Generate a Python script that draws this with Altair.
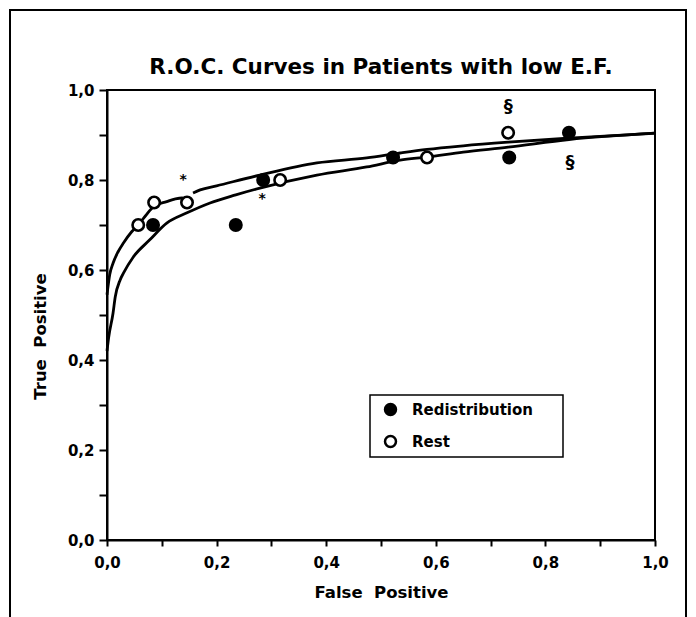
import altair as alt
import pandas as pd

# --- data ---
redis_x = [0.084, 0.235, 0.285, 0.522, 0.734, 0.843]
redis_y = [0.70, 0.70, 0.80, 0.85, 0.85, 0.905]
rest_x = [0.057, 0.086, 0.146, 0.316, 0.584, 0.732]
rest_y = [0.70, 0.75, 0.75, 0.80, 0.85, 0.905]

upper1_x = [0.0, 0.005, 0.011, 0.02, 0.03, 0.045, 0.057, 0.07, 0.086, 0.109, 0.125, 0.137, 0.146]
upper1_y = [0.545, 0.59, 0.615, 0.64, 0.66, 0.685, 0.70, 0.72, 0.742, 0.752, 0.758, 0.760, 0.752]
upper2_x = [0.157, 0.17, 0.2, 0.279, 0.383, 0.474, 0.535, 0.584, 0.65, 0.732, 0.843, 1.0]
upper2_y = [0.771, 0.778, 0.787, 0.811, 0.838, 0.849, 0.86, 0.868, 0.876, 0.884, 0.893, 0.904]
lower_x = [0.0, 0.003, 0.011, 0.015, 0.024, 0.03, 0.048, 0.078, 0.109, 0.146, 0.188, 0.235,
           0.279, 0.383, 0.474, 0.535, 0.584, 0.65, 0.732, 0.843, 1.0]
lower_y = [0.42, 0.45, 0.504, 0.54, 0.578, 0.593, 0.629, 0.667, 0.704, 0.727, 0.749, 0.767,
           0.782, 0.811, 0.829, 0.844, 0.851, 0.862, 0.873, 0.89, 0.904]

note_x = [0.139, 0.283, 0.732, 0.845]
note_y = [0.80, 0.758, 0.962, 0.838]
note_t = ["*", "*", "§", "§"]
note_size = [14, 14, 18, 18]

ticks = [0.0, 0.1, 0.2, 0.3, 0.4, 0.5, 0.6, 0.7, 0.8, 0.9, 1.0]

FONT = "DejaVu Sans"

pts = pd.DataFrame({
    "x": redis_x + rest_x,
    "y": redis_y + rest_y,
    "series": ["Redistribution"] * len(redis_x) + ["Rest"] * len(rest_x),
})
curves = pd.DataFrame({
    "x": upper1_x + upper2_x + lower_x,
    "y": upper1_y + upper2_y + lower_y,
    "seg": ["u1"] * len(upper1_x) + ["u2"] * len(upper2_x) + ["lo"] * len(lower_x),
})
notes = pd.DataFrame({"x": note_x, "y": note_y, "t": note_t, "s": note_size})

label_expr = ("(round(datum.value*10)%2==0) ? replace(format(datum.value,'.1f'),'.',',') : ''")

xenc = alt.X("x:Q", scale=alt.Scale(domain=[0, 1], nice=False),
             axis=alt.Axis(values=ticks, labelExpr=label_expr, title="False\u00a0 Positive",
                           tickSize=6, labelPadding=9, titlePadding=14, labelFlush=False))
yenc = alt.Y("y:Q", scale=alt.Scale(domain=[0, 1], nice=False),
             axis=alt.Axis(values=ticks, labelExpr=label_expr, title="True\u00a0 Positive",
                           tickSize=8, labelPadding=5, titleX=-59, titleY=246, labelFlush=False))

one = pd.DataFrame({"a": [0]})

# outer page frame (decoration)
frame = alt.Chart(one).mark_rect(
    fill=None, stroke="black", strokeWidth=2, clip=False
).encode(x=alt.value(-97), x2=alt.value(579), y=alt.value(-80), y2=alt.value(560))

# legend box (decoration)
legend_box = alt.Chart(one).mark_rect(
    fill="white", stroke="black", strokeWidth=1.5
).encode(x=alt.value(263), x2=alt.value(456), y=alt.value(305), y2=alt.value(367))

lines = alt.Chart(curves).mark_line(color="black", strokeWidth=2.8, interpolate="monotone").encode(
    x=xenc, y=yenc, detail="seg:N", order=alt.Order("x:Q")
)

points = alt.Chart(pts).mark_point(filled=True, stroke="black", strokeWidth=2.6, size=130, opacity=1).encode(
    x="x:Q", y="y:Q",
    fill=alt.Fill("series:N",
                  scale=alt.Scale(domain=["Redistribution", "Rest"], range=["black", "white"]),
                  legend=alt.Legend(title=None, orient="none", legendX=263, legendY=305,
                                    padding=7, symbolType="circle",
                                    symbolSize=120, symbolStrokeColor="black",
                                    symbolStrokeWidth=2.5, symbolOffset=6,
                                    labelFont=FONT, labelFontSize=15,
                                    labelFontWeight="bold", labelColor="black",
                                    rowPadding=11, labelOffset=14, offset=0)),
)

texts = alt.Chart(notes).mark_text(font=FONT, fontWeight="bold", color="black").encode(
    x="x:Q", y="y:Q", text="t:N", size=alt.Size("s:Q", scale=None, legend=None)
)

chart = alt.layer(frame, legend_box, lines, points, texts).properties(
    width=548, height=450,
    padding={"left": 107, "top": 90, "right": 41, "bottom": 77},
    autosize=alt.AutoSizeParams(type="none"),
    title=alt.TitleParams("R.O.C. Curves in Patients with low E.F.", font=FONT, fontSize=21.5,
                          fontWeight="bold", color="black", anchor="middle", frame="group",
                          offset=0, dy=69),
    background="white",
).configure_view(
    stroke="black", strokeWidth=2
).configure_axis(
    grid=False, domainColor="black", domainWidth=2, tickColor="black", tickWidth=2,
    labelFont=FONT, labelFontSize=15, labelFontWeight="bold", labelColor="black",
    titleFont=FONT, titleFontSize=16.5, titleFontWeight="bold", titleColor="black",
)

chart.save("out.html", embed_options={"renderer": "svg", "actions": False})
